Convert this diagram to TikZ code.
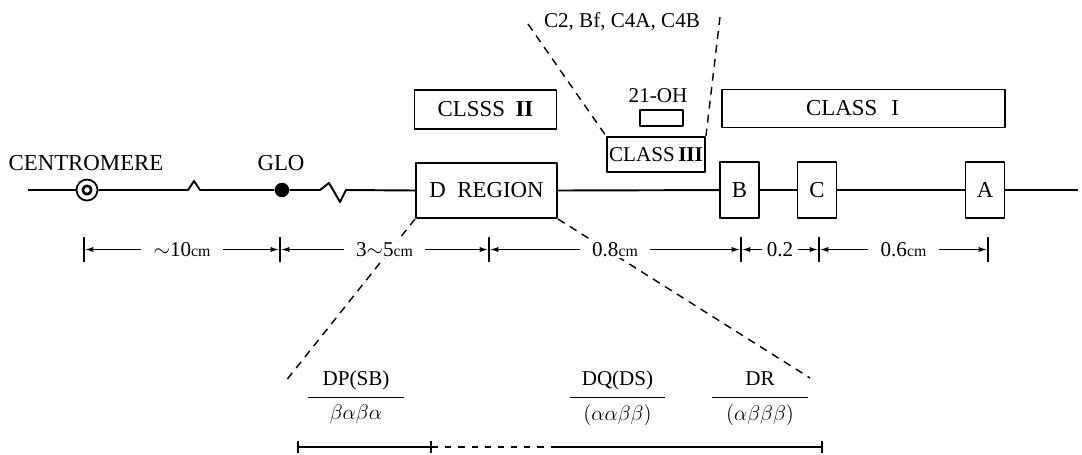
\documentclass[tikz,border=0pt]{standalone}
\usepackage{fontspec}
\setmainfont{Liberation Serif}
\usetikzlibrary{positioning, arrows.meta}

\begin{document}
\begin{tikzpicture}[
  x=0.02cm, y=-0.02cm,
  line join=round,
  lbl/.style={font=\fontsize{13}{15}\selectfont, inner sep=1pt},
  smlbl/.style={font=\fontsize{12}{14}\selectfont, inner sep=1pt},
  box/.style={draw, line width=1.1pt, inner sep=0pt, align=center,
    font=\fontsize{13}{15}\selectfont},
  genebox/.style={box, minimum width=0.78cm, minimum height=1.12cm},
  chrom/.style={line width=1.1pt},
  zoomln/.style={line width=0.8pt, dash pattern=on 4.5pt off 3.5pt},
  tickmk/.style={draw, line width=0.8pt, minimum width=0pt,
    minimum height=0.48cm, inner sep=0pt},
  dimarr/.style={{Latex[length=5pt,width=3pt]}-{Latex[length=5pt,width=3pt]},
    line width=0.8pt},
  dimlbl/.style={fill=white, inner xsep=7pt, inner ysep=1pt,
    font=\fontsize{12}{14}\selectfont},
  haptop/.style={font=\fontsize{12}{14}\selectfont, minimum width=1.9cm,
    text height=9pt, text depth=3pt, inner xsep=0pt, inner ysep=3.8pt},
  hapbot/.style={font=\fontsize{12}{14}\selectfont, inner sep=1pt,
    below=3pt of #1},
  barln/.style={line width=0.9pt},
]

\useasboundingbox (0,0) rectangle (1082,454);

% small unit
\def\ucm{{\fontsize{9}{10}\selectfont cm}}

% ---- Chromosome ----
\coordinate (lend) at (28,190);
\coordinate (rend) at (1078,190);

\node[circle, draw, line width=1pt, minimum size=0.42cm, inner sep=0pt] (cen) at (87,190) {};
\node[circle, draw, line width=1.5pt, minimum size=0.17cm, inner sep=0pt] (cenin) at (cen.center) {};
\node[circle, fill, minimum size=0.29cm, inner sep=0pt] (glo) at (282,190) {};

\node[lbl] (cenlbl) at (86,163) {CENTROMERE};
\node[lbl] (glolbl) at (281,163) {GLO};

% breaks
\coordinate (k1a) at (188,190);
\coordinate (k1b) at (194,181);
\coordinate (k1c) at (200,190);
\coordinate (k2a) at (320,190);
\coordinate (k2b) at (329,183);
\coordinate (k2c) at (340,202);
\coordinate (k2d) at (346,190);

% ---- Boxes ----
\node[box, minimum width=2.82cm, minimum height=1.1cm] (dreg) at (486.5,190.5) {D~~REGION};
\node[box, minimum width=2.84cm, minimum height=0.78cm] (cls2) at (485.5,109.5) {CLSSS\hspace{6pt}\textbf{II}};
\node[box, minimum width=1.96cm, minimum height=0.7cm, font=\fontsize{12}{14}\selectfont] (cls3) at (656,154.5) {CLASS\,\textbf{III}};
\node[box, minimum width=0.86cm, minimum height=0.32cm] (oh) at (661.5,118) {};
\node[smlbl] (ohlbl) at (658,96) {21-OH};
\node[box, minimum width=5.66cm, minimum height=0.76cm] (cls1) at (863.5,108.5) {CLASS\hspace{8pt}I\hspace{0.44cm}};

\node[genebox] (gB) at (739.5,190) {B};
\node[genebox] (gC) at (817,190) {C};
\node[genebox] (gA) at (985,190) {A};

\draw[chrom] (lend) -- (cen);
\draw[chrom] (cen) -- (k1a) -- (k1b) -- (k1c) -- (glo);
\draw[chrom] (glo) -- (k2a) -- (k2b) -- (k2c) -- (k2d) -- (dreg.west);
\draw[chrom] (dreg.east) -- (gB);
\draw[chrom] (gB) -- (gC);
\draw[chrom] (gC) -- (gA);
\draw[chrom] (gA) -- (rend);

% ---- Class III genes ----
\node[smlbl] (c2lbl) at (622,22) {C2, Bf, C4A, C4B};
\coordinate (zl) at (528,24);
\coordinate (zr) at (720,17);
\draw[zoomln] (zl) -- (cls3.north west);
\draw[zoomln] (zr) -- (cls3.north east);

% ---- D region expanded ----
\coordinate (dl) at (285,382);
\coordinate (dr) at (810,378);
\draw[zoomln] (dreg.south west) -- (dl);
\draw[zoomln] (dreg.south east) -- (dr);

% ---- Distances ----
\foreach \n/\x in {1/84, 2/280, 3/489, 4/741, 5/819, 6/988}
  \node[tickmk] (t\n) at (\x,249.5) {};

\draw[dimarr] (t1) -- node[dimlbl] {$\sim$10\ucm} (t2);
\draw[dimarr] (t2) -- node[dimlbl] {3$\sim$5\ucm} (t3);
\draw[dimarr] (t3) -- node[dimlbl] {0.8\ucm} (t4);
\draw[dimarr] (t4) -- node[dimlbl, inner xsep=3pt] {0.2} (t5);
\draw[dimarr] (t5) -- node[dimlbl] {0.6\ucm} (t6);

% ---- Haplotypes ----
\node[haptop] (dp) at (356,380) {DP(SB)};
\draw[barln] (dp.south west) -- (dp.south east);
\node[hapbot=dp] (dpb) {$\beta\alpha\beta\alpha$};

\node[haptop] (dq) at (617.5,380) {DQ(DS)};
\draw[barln] (dq.south west) -- (dq.south east);
\node[hapbot=dq] (dqb) {$(\alpha\alpha\beta\beta)$};

\node[haptop] (dr) at (760,380) {DR};
\draw[barln] (dr.south west) -- (dr.south east);
\node[hapbot=dr] (drb) {$(\alpha\beta\beta\beta)$};

% bracket
\coordinate (b1) at (297,447);
\coordinate (b2) at (432,447);
\coordinate (b3) at (553,447);
\coordinate (b4) at (823,447);
\draw[barln, {Bar[width=7pt]}-{Bar[width=7pt]}] (b1) -- (b2);
\draw[barln, dash pattern=on 3.5pt off 4pt] (b2) -- (b3);
\draw[barln, -{Bar[width=7pt]}] (b3) -- (b4);

\end{tikzpicture}
\end{document}
